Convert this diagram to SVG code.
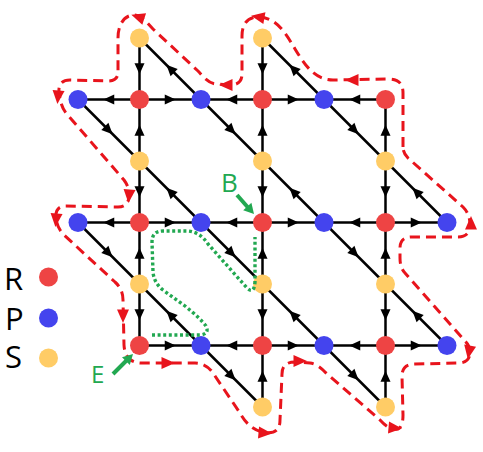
<svg xmlns="http://www.w3.org/2000/svg" xmlns:xlink="http://www.w3.org/1999/xlink" width="483" height="452" viewBox="0 0 483 452">
<style>
.e{stroke:#000;stroke-width:2.5;fill:none}
.R{fill:#EE4444}
.P{fill:#4444EE}
.S{fill:#FFCC66}
.lab{font-family:"Open Sans","Noto Sans","Liberation Sans",sans-serif}
.red{fill:none;stroke:#E8141C;stroke-width:3;stroke-dasharray:10 6}
.grn{fill:none;stroke:#22A851;stroke-width:3.4;stroke-dasharray:3 2.6}
</style>
<defs>
<path id="ba" d="M5.5,0 L-5.5,-5 L-5.5,5 Z" fill="#000"/>
<path id="ra" d="M7,0 L-6.5,-6 L-6.5,6 Z" fill="#E8141C"/>
</defs>
<rect width="483" height="452" fill="#fff"/>
<g id="connectors">
<g class="e">
<line x1="78" y1="99.5" x2="385.5" y2="99.5"/>
<line x1="78" y1="222.5" x2="447" y2="222.5"/>
<line x1="139.5" y1="345.5" x2="447" y2="345.5"/>
<line x1="139.5" y1="38" x2="139.5" y2="345.5"/>
<line x1="262.5" y1="38" x2="262.5" y2="407"/>
<line x1="385.5" y1="99.5" x2="385.5" y2="407"/>
<line x1="139.5" y1="38" x2="447" y2="345.5"/>
<line x1="262.5" y1="38" x2="447" y2="222.5"/>
<line x1="78" y1="99.5" x2="385.5" y2="407"/>
<line x1="78" y1="222.5" x2="262.5" y2="407"/>
</g>
<g id="arrows">
<use xlink:href="#ba" transform="translate(108.75,99.5) rotate(180)"/>
<use xlink:href="#ba" transform="translate(170.25,99.5)"/>
<use xlink:href="#ba" transform="translate(231.75,99.5) rotate(180)"/>
<use xlink:href="#ba" transform="translate(293.25,99.5)"/>
<use xlink:href="#ba" transform="translate(354.75,99.5) rotate(180)"/>
<use xlink:href="#ba" transform="translate(108.75,222.5) rotate(180)"/>
<use xlink:href="#ba" transform="translate(170.25,222.5)"/>
<use xlink:href="#ba" transform="translate(231.75,222.5) rotate(180)"/>
<use xlink:href="#ba" transform="translate(293.25,222.5)"/>
<use xlink:href="#ba" transform="translate(354.75,222.5) rotate(180)"/>
<use xlink:href="#ba" transform="translate(416.25,222.5)"/>
<use xlink:href="#ba" transform="translate(170.25,345.5)"/>
<use xlink:href="#ba" transform="translate(231.75,345.5) rotate(180)"/>
<use xlink:href="#ba" transform="translate(293.25,345.5)"/>
<use xlink:href="#ba" transform="translate(354.75,345.5) rotate(180)"/>
<use xlink:href="#ba" transform="translate(416.25,345.5)"/>
<use xlink:href="#ba" transform="translate(139.5,68.75) rotate(90)"/>
<use xlink:href="#ba" transform="translate(139.5,130.25) rotate(-90)"/>
<use xlink:href="#ba" transform="translate(139.5,191.75) rotate(90)"/>
<use xlink:href="#ba" transform="translate(139.5,253.25) rotate(-90)"/>
<use xlink:href="#ba" transform="translate(139.5,314.75) rotate(90)"/>
<use xlink:href="#ba" transform="translate(262.5,68.75) rotate(90)"/>
<use xlink:href="#ba" transform="translate(262.5,130.25) rotate(-90)"/>
<use xlink:href="#ba" transform="translate(262.5,191.75) rotate(90)"/>
<use xlink:href="#ba" transform="translate(262.5,253.25) rotate(-90)"/>
<use xlink:href="#ba" transform="translate(262.5,314.75) rotate(90)"/>
<use xlink:href="#ba" transform="translate(262.5,376.25) rotate(-90)"/>
<use xlink:href="#ba" transform="translate(385.5,130.25) rotate(-90)"/>
<use xlink:href="#ba" transform="translate(385.5,191.75) rotate(90)"/>
<use xlink:href="#ba" transform="translate(385.5,253.25) rotate(-90)"/>
<use xlink:href="#ba" transform="translate(385.5,314.75) rotate(90)"/>
<use xlink:href="#ba" transform="translate(385.5,376.25) rotate(-90)"/>
<use xlink:href="#ba" transform="translate(170.25,68.75) rotate(225)"/>
<use xlink:href="#ba" transform="translate(231.75,130.25) rotate(45)"/>
<use xlink:href="#ba" transform="translate(293.25,191.75) rotate(225)"/>
<use xlink:href="#ba" transform="translate(354.75,253.25) rotate(45)"/>
<use xlink:href="#ba" transform="translate(416.25,314.75) rotate(225)"/>
<use xlink:href="#ba" transform="translate(293.25,68.75) rotate(225)"/>
<use xlink:href="#ba" transform="translate(354.75,130.25) rotate(45)"/>
<use xlink:href="#ba" transform="translate(416.25,191.75) rotate(225)"/>
<use xlink:href="#ba" transform="translate(108.75,130.25) rotate(45)"/>
<use xlink:href="#ba" transform="translate(170.25,191.75) rotate(225)"/>
<use xlink:href="#ba" transform="translate(231.75,253.25) rotate(45)"/>
<use xlink:href="#ba" transform="translate(293.25,314.75) rotate(225)"/>
<use xlink:href="#ba" transform="translate(354.75,376.25) rotate(45)"/>
<use xlink:href="#ba" transform="translate(108.75,253.25) rotate(45)"/>
<use xlink:href="#ba" transform="translate(170.25,314.75) rotate(225)"/>
<use xlink:href="#ba" transform="translate(231.75,376.25) rotate(45)"/>
</g>
</g>
<g id="nodes">
<g id="R1"><circle class="R" cx="139.5" cy="99.5" r="9.5"/></g>
<g id="R2"><circle class="R" cx="262.5" cy="99.5" r="9.5"/></g>
<g id="R3"><circle class="R" cx="385.5" cy="99.5" r="9.5"/></g>
<g id="R4"><circle class="R" cx="139.5" cy="222.5" r="9.5"/></g>
<g id="R5"><circle class="R" cx="262.5" cy="222.5" r="9.5"/></g>
<g id="R6"><circle class="R" cx="385.5" cy="222.5" r="9.5"/></g>
<g id="R7"><circle class="R" cx="139.5" cy="345.5" r="9.5"/></g>
<g id="R8"><circle class="R" cx="262.5" cy="345.5" r="9.5"/></g>
<g id="R9"><circle class="R" cx="385.5" cy="345.5" r="9.5"/></g>
<g id="P1"><circle class="P" cx="78" cy="99.5" r="9.5"/></g>
<g id="P2"><circle class="P" cx="201" cy="99.5" r="9.5"/></g>
<g id="P3"><circle class="P" cx="324" cy="99.5" r="9.5"/></g>
<g id="P4"><circle class="P" cx="78" cy="222.5" r="9.5"/></g>
<g id="P5"><circle class="P" cx="201" cy="222.5" r="9.5"/></g>
<g id="P6"><circle class="P" cx="324" cy="222.5" r="9.5"/></g>
<g id="P7"><circle class="P" cx="447" cy="222.5" r="9.5"/></g>
<g id="P8"><circle class="P" cx="201" cy="345.5" r="9.5"/></g>
<g id="P9"><circle class="P" cx="324" cy="345.5" r="9.5"/></g>
<g id="P10"><circle class="P" cx="447" cy="345.5" r="9.5"/></g>
<g id="S1"><circle class="S" cx="139.5" cy="38" r="9.5"/></g>
<g id="S2"><circle class="S" cx="262.5" cy="38" r="9.5"/></g>
<g id="S3"><circle class="S" cx="139.5" cy="161" r="9.5"/></g>
<g id="S4"><circle class="S" cx="262.5" cy="161" r="9.5"/></g>
<g id="S5"><circle class="S" cx="385.5" cy="161" r="9.5"/></g>
<g id="S6"><circle class="S" cx="139.5" cy="284" r="9.5"/></g>
<g id="S7"><circle class="S" cx="262.5" cy="284" r="9.5"/></g>
<g id="S8"><circle class="S" cx="385.5" cy="284" r="9.5"/></g>
<g id="S9"><circle class="S" cx="262.5" cy="407" r="9.5"/></g>
<g id="S10"><circle class="S" cx="385.5" cy="407" r="9.5"/></g>
</g>
<g id="boundary">
<path class="red" d="M403,147 L403,93 Q403,79 389,79 L333,80 C312,80 302,60 292,44 C284,30 274,17 258,17 C246,17 242,26 242,36 L242,74 Q242,85 230,85 L217,84 C208,84 203,76 198,71 L153,29 C146,22 142,15 134,15 C124,15 118,25 118,38 L118,72 Q118,81 108,81 L70,80 Q58,80 59,92 C60,101 62,108 66,113 L124,180 Q130,188 129,197 Q128,207 118,207 L66,206 Q55,206 56,218 Q57,228 64,235 L115,282 Q123,289 123,300 L124,345 Q125,363 142,363 L195,363 Q206,363 213,373 L240,413 Q248,428 262,432 Q280,436 280,420 L282,374 Q282,362 295,362 L310,363 Q318,364 326,373 L380,420 Q390,431 398,429 Q403,427 403,415 L402,376 Q402,364 415,364 L460,363 Q470,362 470,352 Q470,346 465,341 L405,273 Q400,268 400,258 L400,248 Q400,237 412,237 L458,237 Q470,237 470,225 Q470,214 463,207 L408,158 Q403,153 403,147 Z"/>
<use xlink:href="#ra" transform="translate(138,17) rotate(198)"/>
<use xlink:href="#ra" transform="translate(258,17) rotate(190)"/>
<use xlink:href="#ra" transform="translate(226,85) rotate(180)"/>
<use xlink:href="#ra" transform="translate(352,80) rotate(180)"/>
<use xlink:href="#ra" transform="translate(58,97) rotate(95)"/>
<use xlink:href="#ra" transform="translate(129,196) rotate(95)"/>
<use xlink:href="#ra" transform="translate(56,220) rotate(95)"/>
<use xlink:href="#ra" transform="translate(123,316) rotate(90)"/>
<use xlink:href="#ra" transform="translate(168,363)"/>
<use xlink:href="#ra" transform="translate(265,433) rotate(5)"/>
<use xlink:href="#ra" transform="translate(300,361)"/>
<use xlink:href="#ra" transform="translate(395,428) rotate(5)"/>
<use xlink:href="#ra" transform="translate(469,352) rotate(100)"/>
<use xlink:href="#ra" transform="translate(471,223) rotate(-90)"/>
</g>
<g id="path-BE">
<path class="grn" d="M152,335 L200,335 Q210,334 206,326 Q200,318 185,306 L163,290 Q154,283 153,272 L152,242 Q152,231 163,231 L188,231 Q200,232 208,244 L247,288 Q254,295 255,282 L255,237"/>
</g>
<g id="label-B">
<text class="lab" x="221" y="192" font-size="26" fill="#22A851">B</text>
<line x1="237" y1="195" x2="248" y2="207.5" stroke="#22A851" stroke-width="4"/>
<polygon points="254,214 243.2,210.2 251.4,202.8" fill="#22A851"/>
</g>
<g id="label-E">
<text class="lab" x="91" y="383" font-size="24" fill="#22A851">E</text>
<line x1="113" y1="374" x2="127" y2="360" stroke="#22A851" stroke-width="4"/>
<polygon points="133,354 129.8,365 122,357.2" fill="#22A851"/>
</g>
<g id="legend">
<g id="legend-R"><text class="lab" x="4" y="290" font-size="31" fill="#000">R</text><circle class="R" cx="48.5" cy="277" r="9.5"/></g>
<g id="legend-P"><text class="lab" x="5" y="330" font-size="31" fill="#000">P</text><circle class="P" cx="48.5" cy="318" r="9.5"/></g>
<g id="legend-S"><text class="lab" x="5" y="368" font-size="31" fill="#000">S</text><circle class="S" cx="48.5" cy="358" r="9.5"/></g>
</g>
</svg>
